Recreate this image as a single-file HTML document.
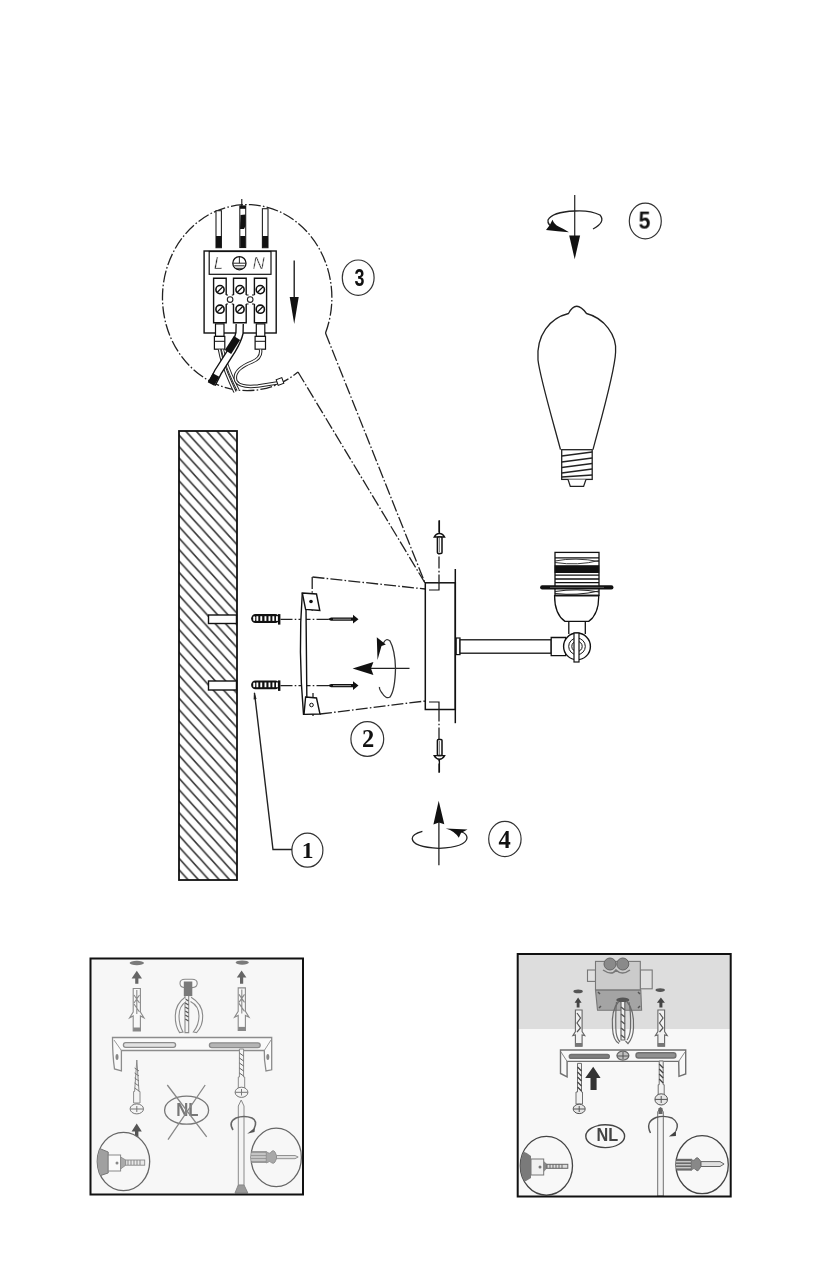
<!DOCTYPE html>
<html><head><meta charset="utf-8">
<style>
html,body{margin:0;padding:0;background:#fff;width:823px;height:1280px;overflow:hidden;}
svg{position:absolute;left:0;top:0;}
text{font-family:"Liberation Sans",sans-serif;}
svg{will-change:transform;}
.dd{fill:none;stroke:#222;stroke-width:1.3;stroke-dasharray:12 2.2 1.6 2.2;}
.ln{fill:none;stroke:#111;}
.tn{fill:none;stroke:#222;}
</style></head>
<body>
<svg width="823" height="1280" viewBox="0 0 823 1280">
<defs>
  <pattern id="hatch" patternUnits="userSpaceOnUse" width="10.4" height="11.44" patternTransform="translate(178,434)">
    <path d="M-2.08,-2.29 L12.48,13.73 M-12.48,-2.29 L2.08,13.73 M8.32,-2.29 L22.88,13.73" stroke="#3a3a3a" stroke-width="1.7"/>
  </pattern>
  <clipPath id="wallclip"><rect x="179" y="431" width="58" height="449"/></clipPath>
</defs>

<!-- WALL -->
<g id="wall">
  <rect x="179" y="431" width="58" height="449" fill="url(#hatch)"/>
  <rect x="179" y="431" width="58" height="449" fill="none" stroke="#111" stroke-width="1.8"/>
  <rect x="208.5" y="615" width="28" height="8.5" fill="#fff" stroke="#111" stroke-width="1.4"/>
  <rect x="208.5" y="681" width="28" height="9" fill="#fff" stroke="#111" stroke-width="1.4"/>
</g>


<!-- DETAIL CIRCLE 3 -->
<g id="detail3">
  <path class="dd" d="M325.5,333 A84.7,93 0 1 0 298,372"/>
  <path class="dd" d="M325.5,333 L425,583"/>
  <path class="dd" d="M298,372 L425,583"/>
  <!-- wires top -->
  <g stroke="#222" stroke-width="1.1" fill="#fff">
    <rect x="216" y="210.7" width="5.4" height="37"/>
    <rect x="239.8" y="206" width="5.9" height="41.5"/>
    <rect x="262.4" y="208.7" width="5.6" height="39"/>
  </g>
  <g fill="#111">
    <rect x="216" y="236" width="5.4" height="11.6"/>
    <rect x="262.4" y="236" width="5.6" height="11.6"/>
    <rect x="240.2" y="236" width="5.2" height="11.6"/>
    <path d="M240.5,215 L245.5,214.5 L245.5,226 L244,229 L240,229Z"/>
    <rect x="240" y="205.8" width="5.8" height="3"/>
  </g>
  <line x1="241.8" y1="199" x2="241.8" y2="206" stroke="#111" stroke-width="1.1"/>
  <!-- block -->
  <rect x="204.1" y="251" width="72.1" height="82" fill="#fff" stroke="#111" stroke-width="1.4"/>
  <rect x="209.2" y="251.5" width="61.8" height="22.8" fill="#fff" stroke="#111" stroke-width="1.2"/>
  <text id="tL" x="218.5" y="269.2" font-size="17" font-style="italic" text-anchor="middle" fill="#222" stroke="#fff" stroke-width="0.5">L</text>
  <text id="tN" x="258.6" y="269.2" font-size="17" font-style="italic" text-anchor="middle" fill="#222" stroke="#fff" stroke-width="0.5">N</text>
  <circle cx="239.4" cy="263.2" r="6.6" fill="none" stroke="#111" stroke-width="1.3"/>
  <path d="M233.2,263.2 H245.6 M234.2,265.8 H244.6 M236,268.3 H242.8 M239.4,257 V263.2" stroke="#111" stroke-width="0.9"/>
  <g stroke="#111" stroke-width="1.4" fill="none">
    <path d="M226.2,295 V278.3 H213.6 V322.7 H226.2 V304"/>
    <path d="M233.5,295 V278.3 H246.2 V295 M246.2,304 V322.7 H233.5 V304"/>
    <path d="M254.4,295 V278.3 H266.6 V322.7 H254.4 V304"/>
    <path d="M226.2,295 H228 M226.2,304 H228 M231.8,295 H233.5 M231.8,304 H233.5 M246.2,295 H248.5 M246.2,304 H248.5 M252,295 H254.4 M252,304 H254.4" stroke-width="1.1"/>
  </g>
  <g stroke="#111" stroke-width="1.6" fill="#fff">
    <circle cx="220" cy="289.6" r="4.1"/><circle cx="240" cy="289.6" r="4.1"/><circle cx="260.3" cy="289.6" r="4.1"/>
    <circle cx="220" cy="309.2" r="4.1"/><circle cx="240" cy="309.2" r="4.1"/><circle cx="260.3" cy="309.2" r="4.1"/>
  </g>
  <g stroke="#222" stroke-width="1.1" fill="#fff">
    <circle cx="230.1" cy="299.6" r="2.8"/><circle cx="250.2" cy="299.6" r="2.8"/>
  </g>
  <path d="M217.3,292.3 L222.7,286.9 M237.3,292.3 L242.7,286.9 M257.6,292.3 L263,286.9 M217.3,311.9 L222.7,306.5 M237.3,311.9 L242.7,306.5 M257.6,311.9 L263,306.5" stroke="#111" stroke-width="1.3"/>
  <!-- necks / ferrules -->
  <g stroke="#111" stroke-width="1.2" fill="#fff">
    <rect x="215.5" y="323.9" width="8.5" height="12.5"/>
    <rect x="256.3" y="323.9" width="8.5" height="12.5"/>
    <rect x="214.4" y="336.4" width="10.4" height="12.8"/>
    <rect x="255.1" y="336.4" width="10.4" height="12.8"/>
  </g>
  <path d="M214.4,341.3 H224.8 M255.1,341.3 H265.5" stroke="#111" stroke-width="1"/>
  <!-- wires bottom -->
  <path d="M219.5,349.5 Q222,365 235,392" class="tn" stroke-width="3.4"/>
  <path d="M219.5,349.5 Q222,365 235,392" fill="none" stroke="#fff" stroke-width="1.4"/>
  <path d="M222.5,349.5 Q226,366 238,390" fill="none" stroke="#222" stroke-width="3.2"/>
  <path d="M222.5,349.5 Q226,366 238,390" fill="none" stroke="#fff" stroke-width="1.3"/>
  <path d="M260.5,349.5 Q262,358 252,362 Q232,370 236,381 Q240,388 258,386 L277,383" class="tn" stroke-width="3.4"/>
  <path d="M260.5,349.5 Q262,358 252,362 Q232,370 236,381 Q240,388 258,386 L277,383" fill="none" stroke="#fff" stroke-width="1.4"/>
  <path d="M239.7,324 L239.5,333 Q238,340 232,350 L218,372 L212,384" fill="none" stroke="#111" stroke-width="8.5" stroke-linecap="butt"/>
  <path d="M239.7,324 L239.5,333 Q238,340 232,350 L218,372 L212,384" fill="none" stroke="#fff" stroke-width="5.8"/>
  <path d="M237,338 L228,352" stroke="#111" stroke-width="7.5"/>
  <path d="M216,375 L211,384" stroke="#111" stroke-width="7.5"/>
  <rect x="277" y="378.5" width="6" height="6" fill="#fff" stroke="#111" stroke-width="1" transform="rotate(-20 280 381.5)"/>
  <!-- down arrow -->
  <line x1="294.2" y1="260.4" x2="294.2" y2="300" stroke="#111" stroke-width="1.3"/>
  <path d="M289.7,297 L298.7,297 L294.2,324Z" fill="#111"/>
</g>


<!-- DIGITS -->
<g fill="#111">
  <text id="d3" x="0" y="0" font-size="23" font-weight="bold" transform="translate(354.6,285.6) scale(0.78,1)">3</text>
  <text id="d5" x="0" y="0" font-size="23" font-weight="bold" transform="translate(638.6,228.6) scale(0.92,1)">5</text>
  <text id="d1" x="0" y="0" font-size="23.5" font-weight="bold" style="font-family:'Liberation Serif',serif" transform="translate(301.8,858)">1</text>
  <text id="d2" x="0" y="0" font-size="24.5" font-weight="bold" style="font-family:'Liberation Serif',serif" transform="translate(362,746.7)">2</text>
  <text id="d4" x="0" y="0" font-size="24.5" font-weight="bold" style="font-family:'Liberation Serif',serif" transform="translate(498.5,847.5)">4</text>
</g>

<!-- ROTATE ARROW 5 -->
<g id="rot5">
  <line x1="574.7" y1="195" x2="574.7" y2="240" stroke="#333" stroke-width="1.3"/>
  <path d="M569.2,235.6 L580.1,235.6 L574.7,259.3Z" fill="#111"/>
  <path d="M593,229 Q606,222 600,215 Q590,210 574.7,211 Q552,212 548,220 Q547,226 556,228" fill="none" stroke="#222" stroke-width="1.3"/>
  <path d="M552.5,219.8 Q554,224.5 559,226.8 Q564,229 569,232.3 Q558,231.5 546,230 Q550,226 552.5,219.8Z" fill="#111"/>
</g>

<!-- BULB -->
<g id="bulb" fill="none" stroke="#222" stroke-width="1.3">
  <path d="M560.5,449.7 C556,432 540,378 538,360 C536,335 550,318 568.5,313.5 Q576,299 586.5,313.5 C604,318 617,335 615.6,352 C615,372 598,430 593,449.7"/>
  <rect x="561.7" y="449.7" width="30.5" height="29.7" fill="#fff"/>
  <path d="M561.7,456 L592.2,452 M561.7,462 L592.2,458 M561.7,467.5 L592.2,463.5 M561.7,473 L592.2,469 M561.7,477 L592.2,475" stroke-width="1.5"/>
  <path d="M568,479.4 L570.3,486.4 L583.6,486.4 L586,479.4" fill="#fff"/>
</g>


<!-- MOUNT ASSEMBLY -->
<g id="mount">
  <!-- dash-dot projection lines -->
  <path class="dd" d="M312.5,577 L425.3,589"/>
  <path class="dd" d="M320,714 L425.3,701"/>
  <path class="dd" d="M280.5,619.3 L330,619.3"/>
  <path class="dd" d="M280.5,685.6 L330,685.6"/>
  <path class="dd" d="M312.2,577 L312.2,613"/>
  <path class="dd" d="M313,693 L313,716"/>
  <!-- dowels -->
  <g id="dowel1">
    <rect x="251.1" y="614.1" width="28.5" height="8.9" rx="4.4" fill="#111"/>
    <rect x="278" y="614.1" width="2.4" height="10.5" fill="#111"/>
    <g fill="#fff"><rect x="253.2" y="616.2" width="2" height="4.7" rx="1"/><rect x="256.4" y="616.2" width="1.9" height="4.7"/><rect x="260.3" y="616.2" width="1.9" height="4.7"/><rect x="264.5" y="616.2" width="1.9" height="4.7"/><rect x="268.5" y="616.2" width="1.9" height="4.7"/><rect x="272.4" y="616.2" width="1.9" height="4.7"/><rect x="276" y="616.2" width="1.9" height="4.7"/></g>
  </g>
  <g transform="translate(0,66.3)">
    <rect x="251.1" y="614.1" width="28.5" height="8.9" rx="4.4" fill="#111"/>
    <rect x="278" y="614.1" width="2.4" height="10.5" fill="#111"/>
    <g fill="#fff"><rect x="253.2" y="616.2" width="2" height="4.7" rx="1"/><rect x="256.4" y="616.2" width="1.9" height="4.7"/><rect x="260.3" y="616.2" width="1.9" height="4.7"/><rect x="264.5" y="616.2" width="1.9" height="4.7"/><rect x="268.5" y="616.2" width="1.9" height="4.7"/><rect x="272.4" y="616.2" width="1.9" height="4.7"/><rect x="276" y="616.2" width="1.9" height="4.7"/></g>
  </g>
  <!-- bracket -->
  <path d="M302.3,593 Q298,650 303.5,714.4 L307,714.4 L306,609" fill="#fff" stroke="#111" stroke-width="1.4"/>
  <path d="M302.3,593 L316.5,594 L319.8,610.5 L305.6,609.4Z" fill="#fff" stroke="#111" stroke-width="1.4"/>
  <path d="M305.6,697 L316.5,698 L320,714 L304,714.4Z" fill="#fff" stroke="#111" stroke-width="1.4"/>
  <circle cx="311" cy="601.5" r="1.8" fill="#111"/>
  <circle cx="311.5" cy="705" r="1.8" fill="none" stroke="#111" stroke-width="1"/>
  <!-- screws -->
  <g id="screw1">
    <path d="M327.5,619.2 L331,617.6 L353,617.6 L353,614.8 L358.5,619.2 L353,623.6 L353,620.8 L331,620.8Z" fill="#111"/>
    <path d="M333,619.2 H351" stroke="#bbb" stroke-width="0.8"/>
  </g>
  <g transform="translate(0,66.4)">
    <path d="M327.5,619.2 L331,617.6 L353,617.6 L353,614.8 L358.5,619.2 L353,623.6 L353,620.8 L331,620.8Z" fill="#111"/>
    <path d="M333,619.2 H351" stroke="#bbb" stroke-width="0.8"/>
  </g>
  <!-- rotate arrow 2 -->
  <line x1="366" y1="668.4" x2="409.5" y2="668.4" stroke="#222" stroke-width="1.2"/>
  <path d="M352.6,668.4 L373.4,662 L371,668.4 L373.4,675Z" fill="#111"/>
  <path d="M383.5,643 Q386,637.5 390,641 Q395,650 395.5,668.4 Q395,690 390,697 Q386,699.5 382,693 Q379,689 379.5,687" fill="none" stroke="#333" stroke-width="1.3"/>
  <path d="M376.8,637.3 L385.8,644.5 L381.5,646 L377.5,660Z" fill="#111"/>
  <!-- mount box -->
  <rect x="425.3" y="582.8" width="30" height="126.7" fill="#fff" stroke="#111" stroke-width="1.5"/>
  <line x1="455.3" y1="569" x2="455.3" y2="723.2" stroke="#111" stroke-width="1.5"/>
  <path d="M439,583 V590 H429" fill="none" stroke="#111" stroke-width="1.2"/>
  <path d="M439,709.5 V702 H429" fill="none" stroke="#111" stroke-width="1.2"/>
  <path class="dd" d="M439,520.6 L439,583"/>
  <path class="dd" d="M439,709.5 L439,772.8"/>
  <!-- screw up -->
  <path d="M434.2,537 Q436,533.6 439.4,533.4 Q442.8,533.6 444.6,537Z" fill="#fff" stroke="#111" stroke-width="1.4"/>
  <line x1="439.4" y1="520.3" x2="439.4" y2="534" stroke="#111" stroke-width="1.3"/>
  <rect x="437.4" y="537" width="4.6" height="16.4" rx="1" fill="#fff" stroke="#111" stroke-width="1.5"/>
  <line x1="439.4" y1="538" x2="439.4" y2="552" stroke="#555" stroke-width="0.8"/>
  <!-- screw down -->
  <path d="M434.2,755.6 Q436,759 439.4,759.2 Q442.8,759 444.6,755.6Z" fill="#fff" stroke="#111" stroke-width="1.4"/>
  <line x1="439.4" y1="759" x2="439.4" y2="772.5" stroke="#111" stroke-width="1.3"/>
  <rect x="437.4" y="739.6" width="4.6" height="16" rx="1" fill="#fff" stroke="#111" stroke-width="1.5"/>
  <line x1="439.4" y1="741" x2="439.4" y2="755" stroke="#555" stroke-width="0.8"/>
  <!-- arm -->
  <rect x="456.2" y="638" width="3.8" height="16.6" fill="#fff" stroke="#111" stroke-width="1.2"/>
  <rect x="460" y="639.8" width="91.2" height="13.4" fill="#fff" stroke="#111" stroke-width="1.3"/>
  <path d="M551.2,637.5 L565.7,637.5 L565.7,655.7 L551.2,655.7 Z" fill="#fff" stroke="#111" stroke-width="1.3"/>
  <!-- knob -->
  <circle cx="577" cy="646.4" r="13.4" fill="#fff" stroke="#111" stroke-width="1.4"/>
  <circle cx="577" cy="646.4" r="8.3" fill="none" stroke="#111" stroke-width="1"/>
  <circle cx="577" cy="646.4" r="5.2" fill="none" stroke="#111" stroke-width="1"/>
  <rect x="574" y="633" width="5" height="29" fill="#fff" stroke="#111" stroke-width="1.2"/>
  <!-- neck -->
  <path d="M568.8,621.6 L568.8,634 M585.3,621.6 L585.3,634" stroke="#111" stroke-width="1.3"/>
  <!-- socket -->
  <path d="M554.6,595.6 L598.7,595.6 Q599,614 588.7,621.4 L565,621.4 Q554.5,614 554.6,595.6Z" fill="#fff" stroke="#111" stroke-width="1.3"/>
  <rect x="555" y="552.4" width="44" height="43" fill="#fff" stroke="#111" stroke-width="1.3"/>
  <rect x="554.6" y="565.2" width="44.6" height="7.8" fill="#111"/>
  <path d="M555,557.8 H599 M555,575.2 H599 M555,579 H599 M555,582.6 H599" stroke="#111" stroke-width="1.3"/>
  <path d="M555,561 Q575,557 599,561.5 M555,562.5 Q578,566 599,560.5" stroke="#222" stroke-width="0.9" fill="none"/>
  <path d="M542.2,587.4 L611.4,587.4" stroke="#111" stroke-width="4.2" stroke-linecap="round"/>
  <path d="M550,587.4 L604,587.4" stroke="#777" stroke-width="0.7"/>
  <path d="M555,591.5 Q577,588 599,592 M555,593.5 Q577,596 599,591" stroke="#222" stroke-width="1" fill="none"/>
  <path d="M555,595.6 H599" stroke="#111" stroke-width="1.5"/>
</g>


<!-- ROTATE ARROW 4 -->
<g id="rot4">
  <line x1="438.9" y1="815" x2="438.9" y2="865.3" stroke="#222" stroke-width="1.3"/>
  <path d="M438.7,800.7 L444.3,824.3 L438.9,822.6 L433.4,824.5Z" fill="#111"/>
  <path d="M422.4,831.3 Q412,834 412.2,838.6 Q413,847 438.9,848.3 Q466,847 467,838 Q467,834 462,832" fill="none" stroke="#222" stroke-width="1.3"/>
  <path d="M445.7,828.4 L467.5,829.4 L461,833 L458.8,837.8 Q455,831 445.7,828.4Z" fill="#111"/>
</g>

<!-- CALLOUT CIRCLES -->
<g fill="none" stroke="#333" stroke-width="1.2">
  <ellipse cx="358.2" cy="277.7" rx="15.9" ry="17.7"/>
  <ellipse cx="645.3" cy="221" rx="16" ry="17.8"/>
  <ellipse cx="367.3" cy="739" rx="16.4" ry="17.3"/>
  <ellipse cx="504.9" cy="839" rx="16.2" ry="17.6"/>
  <ellipse cx="307.4" cy="850.2" rx="15.5" ry="17"/>
</g>
<path d="M292,849.5 H273 L254.5,693" fill="none" stroke="#222" stroke-width="1.4"/>
<path d="M254,691.5 L256.6,699 L253.6,699.5Z" fill="#222"/>

<!-- BOTTOM LEFT BOX -->
<g id="box1">
  <rect x="90.5" y="958.5" width="212.5" height="236" fill="#f7f7f7"/>
  <!-- washers -->
  <ellipse cx="136.8" cy="963" rx="7.2" ry="2.2" fill="#7a7a7a"/>
  <ellipse cx="242.2" cy="962.6" rx="6.6" ry="2.1" fill="#7a7a7a"/>
  <!-- small up arrows -->
  <path d="M136.8,970.8 L142,978.5 L138.4,978.5 L138.4,983.7 L135.2,983.7 L135.2,978.5 L131.6,978.5Z" fill="#666"/>
  <path d="M241.6,970.6 L246.4,977.5 L243.2,977.5 L243.2,983.7 L240,983.7 L240,977.5 L236.8,977.5Z" fill="#666"/>
  <!-- dowels -->
  <g id="bdowel" fill="none" stroke="#8a8a8a" stroke-width="1.1">
    <path d="M133.2,988.5 L140.4,988.5 L140.4,1012 L144,1017.8 L140.4,1016 L140.4,1031 L133.2,1031 L133.2,1016 L129.6,1017.8 L133.2,1012Z" fill="#f8f8f8"/>
    <path d="M136.8,990 L136.8,1014 M134,995 L139.5,1003 M139.5,995 L134,1003 M134,1004 L139.5,1012"/>
    <rect x="133.2" y="1027.5" width="7.2" height="3.5" fill="#888" stroke="none"/>
  </g>
  <g transform="translate(105,-0.6)" fill="none" stroke="#8a8a8a" stroke-width="1.1">
    <path d="M133.2,988.5 L140.4,988.5 L140.4,1012 L144,1017.8 L140.4,1016 L140.4,1031 L133.2,1031 L133.2,1016 L129.6,1017.8 L133.2,1012Z" fill="#f8f8f8"/>
    <path d="M136.8,990 L136.8,1014 M134,995 L139.5,1003 M139.5,995 L134,1003 M134,1004 L139.5,1012"/>
    <rect x="133.2" y="1027.5" width="7.2" height="3.5" fill="#888" stroke="none"/>
  </g>
  <!-- clamp -->
  <g id="clamp1" stroke="#8a8a8a" stroke-width="1.1" fill="none">
    <path d="M180,983.3 Q180,979.3 185,979.3 L192,979.3 Q197.2,979.3 197.2,983.3 Q197.2,987.6 192,987.6 L185,987.6 Q180,987.6 180,983.3Z" fill="#fafafa"/>
    <rect x="183.8" y="981.5" width="8.5" height="14.6" fill="#7a7a7a" stroke="none"/>
    <path d="M185,996 L185,1032.6 L188.7,1032.6 L188.7,996" fill="#f4f4f4"/>
    <path d="M185.3,999 L188.5,1001 M185.3,1003 L188.5,1005 M185.3,1007 L188.5,1009 M185.3,1011 L188.5,1013 M185.3,1015 L188.5,1017 M185.3,1019 L188.5,1021" stroke="#555" stroke-width="1.3"/>
    <path d="M185,997.3 Q175.5,1004 175.3,1015.6 Q175,1026 179.6,1032.6 L183,1032 Q179,1025 179,1016 Q179,1006 186,1001.6" fill="#f8f8f8"/>
    <path d="M191.1,997.3 Q202.5,1004 202.7,1015.6 Q203,1026 196.6,1032.6 L193.3,1032 Q199,1025 199,1016 Q199,1006 190.5,1001.6" fill="#f8f8f8"/>
  </g>
  <!-- bracket -->
  <g stroke="#8c8c8c" stroke-width="1.3" fill="#fafafa">
    <path d="M112.5,1037.5 L271.7,1037.5 L271.7,1069.8 L266,1071 Q264,1060 264.3,1050.5 L121.4,1050.5 L121.4,1070.8 L114.5,1069 Q112.5,1055 112.5,1037.5Z"/>
    <rect x="123.4" y="1042.7" width="52.2" height="4.7" rx="2.3" fill="#e2e2e2"/>
    <rect x="209.4" y="1042.8" width="50.8" height="4.9" rx="2.4" fill="#b4b4b4"/>
  </g>
  <path d="M114,1040 L121.4,1050.5 M271,1040 L264.3,1050.5" stroke="#999" stroke-width="1"/>
  <ellipse cx="117" cy="1057" rx="1.5" ry="3" fill="#888"/>
  <ellipse cx="267.8" cy="1057" rx="1.5" ry="3" fill="#888"/>
  <!-- left screw -->
  <g stroke="#8a8a8a" stroke-width="1" fill="#f4f4f4">
    <path d="M136.8,1060 L139,1091.5 L140,1091.5 L140,1103 L133.6,1103 L133.6,1091.5 L134.6,1091.5Z"/>
    <path d="M134.6,1068 L139,1071 M134.6,1073 L139,1076 M134.6,1078 L139,1081 M134.6,1083 L139,1086 M134.6,1088 L139,1091" stroke="#777"/>
    <ellipse cx="136.8" cy="1108.9" rx="6.7" ry="5" stroke="#777"/>
    <path d="M130.5,1109 H143 M136.8,1106 V1112" stroke="#777"/>
  </g>
  <path d="M136.7,1123.5 L141.8,1131.5 L138.4,1131.5 L138.4,1137 L135,1137 L135,1131.5 L131.6,1131.5Z" fill="#555"/>
  <!-- NL crossed -->
  <ellipse cx="186.6" cy="1110.2" rx="22" ry="14" fill="none" stroke="#777" stroke-width="1.3"/>
  <text id="nl1" x="0" y="0" font-size="18" font-weight="bold" text-anchor="middle" fill="#777" transform="translate(187.3,1116) scale(0.93,1)">NL</text>
  <path d="M167.3,1085 L206.7,1136.8 M205.2,1085 L168,1139.7" stroke="#888" stroke-width="1.3"/>
  <!-- right screw + screwdriver -->
  <g stroke="#8a8a8a" stroke-width="1" fill="#f4f4f4">
    <path d="M239.4,1049 L243.6,1049 L243.6,1077 L244.7,1077 L244.7,1088 L238.3,1088 L238.3,1077 L239.4,1077Z"/>
    <path d="M239.4,1053 L243.6,1056 M239.4,1058 L243.6,1061 M239.4,1063 L243.6,1066 M239.4,1068 L243.6,1071 M239.4,1073 L243.6,1076" stroke="#666"/>
    <ellipse cx="241.5" cy="1092.3" rx="6.4" ry="5.1" stroke="#777"/>
    <path d="M235.2,1092.3 H247.8 M241.5,1089 V1095.5" stroke="#777"/>
    <path d="M241.2,1100 L244,1106 L244,1185.4 L238.3,1185.4 L238.3,1106Z"/>
    <path d="M238.3,1185 L244,1185 L247.8,1193 L235,1193Z" fill="#9a9a9a" stroke="#888"/>
  </g>
  <path d="M233,1130 Q228,1122 236,1118 Q244,1115 252,1118 Q258,1121 254,1129" fill="none" stroke="#666" stroke-width="1.6"/>
  <path d="M247.2,1133.8 L255,1127.5 L254.5,1132Z" fill="#555"/>
  <!-- inset circles -->
  <g>
    <clipPath id="c1l"><ellipse cx="123.5" cy="1161.5" rx="26.2" ry="29.2"/></clipPath>
    <ellipse cx="123.5" cy="1161.5" rx="26.2" ry="29.2" fill="#f7f7f7" stroke="#666" stroke-width="1.3"/>
    <g clip-path="url(#c1l)">
      <path d="M96,1147 L108.2,1152 L108.2,1173 L96,1177Z" fill="#a0a0a0" stroke="#777" stroke-width="1"/>
      <rect x="108.2" y="1155" width="12.4" height="16" fill="#fafafa" stroke="#888" stroke-width="1"/>
      <path d="M120.6,1157 L125.7,1160 L125.7,1165.2 L120.6,1169Z" fill="#aaa" stroke="#888" stroke-width="0.8"/>
      <rect x="125.7" y="1160" width="19" height="5.2" fill="#e8e8e8" stroke="#888" stroke-width="0.9"/>
      <path d="M128,1160 V1165 M131,1160 V1165 M134,1160 V1165 M137,1160 V1165 M140,1160 V1165" stroke="#888" stroke-width="1"/>
      <circle cx="117" cy="1163" r="1.5" fill="#888"/>
    </g>
    <clipPath id="c1r"><ellipse cx="276.2" cy="1157.4" rx="25.2" ry="29.3"/></clipPath>
    <ellipse cx="276.2" cy="1157.4" rx="25.2" ry="29.3" fill="#f7f7f7" stroke="#666" stroke-width="1.3"/>
    <g clip-path="url(#c1r)">
      <rect x="250" y="1151" width="16.3" height="12" fill="#9a9a9a"/>
      <path d="M250,1154 H266 M250,1157 H266 M250,1160 H266" stroke="#eee" stroke-width="1"/>
      <path d="M266.3,1151.5 Q270,1155 272,1151 Q274,1150 275,1152 L276.5,1155.5 L276.5,1158.7 L275,1162 Q274,1164 272,1163 Q270,1160 266.3,1163Z" fill="#a8a8a8" stroke="#888" stroke-width="0.8"/>
      <path d="M276.5,1155.5 L295,1155.5 L298.2,1157 L295,1158.7 L276.5,1158.7Z" fill="#e0e0e0" stroke="#888" stroke-width="0.9"/>
    </g>
  </g>
  <rect x="90.5" y="958.5" width="212.5" height="236" fill="none" stroke="#111" stroke-width="2"/>
</g>

<!-- BOTTOM RIGHT BOX -->
<g id="box2">
  <rect x="517.7" y="954" width="213" height="242.5" fill="#f8f8f8"/>
  <rect x="518" y="954" width="212" height="75" fill="#dddddd"/>
  <!-- junction box -->
  <g stroke="#777" stroke-width="1.1">
    <rect x="587.5" y="970" width="8" height="11.4" fill="#e0e0e0"/>
    <rect x="640.3" y="970" width="11.9" height="18.8" fill="#e0e0e0"/>
    <rect x="595.5" y="961.4" width="44.8" height="28.7" fill="#cbcbcb"/>
    <path d="M595.5,990.1 L640.8,990.1 L641.6,1010.2 L597.5,1010.2Z" fill="#a4a4a4"/>
  </g>
  <circle cx="610" cy="964" r="6" fill="#8a8a8a" stroke="#666" stroke-width="1"/>
  <circle cx="622.8" cy="964" r="6" fill="#8a8a8a" stroke="#666" stroke-width="1"/>
  <path d="M603,970 Q612,976 616,970 Q622,976 630,970" fill="none" stroke="#777" stroke-width="1.5"/>
  <path d="M598,992 L600,994 M638,992 L640,994 M599,1008 L601,1006 M638,1008 L640,1006" stroke="#555" stroke-width="1.5"/>
  <ellipse cx="622.8" cy="1000" rx="6.5" ry="2.5" fill="#555"/>
  <!-- clamp 2 -->
  <g stroke="#6a6a6a" stroke-width="1.2" fill="none">
    <path d="M619,1001 Q611,1010 612.5,1028 Q613,1040 619,1043.6"/>
    <path d="M616.5,1002 Q615.5,1012 615.8,1028 Q616,1038 620,1042"/>
    <path d="M626.5,1001 Q634.5,1010 633.5,1028 Q633,1038 628,1043.6 L625.5,1041"/>
    <path d="M629,1002 Q631,1012 630.5,1028 Q630,1036 627,1040"/>
    <path d="M621,1002 L621,1040 L624.8,1040 L624.8,1002" fill="#eee"/>
    <path d="M621,1007 L624.8,1010 M621,1014 L624.8,1017 M621,1021 L624.8,1024 M621,1028 L624.8,1031 M621,1035 L624.8,1038" stroke="#555" stroke-width="1.5"/>
  </g>
  <!-- washers/arrows -->
  <ellipse cx="578.1" cy="991.4" rx="4.7" ry="1.8" fill="#555"/>
  <ellipse cx="660.2" cy="990.1" rx="4.7" ry="1.8" fill="#555"/>
  <path d="M578.1,997.5 L581.6,1002.8 L579.5,1002.8 L579.5,1007.5 L576.7,1007.5 L576.7,1002.8 L574.6,1002.8Z" fill="#444"/>
  <path d="M660.9,997.5 L664.9,1002.8 L662.4,1002.8 L662.4,1007.5 L659.4,1007.5 L659.4,1002.8 L656.9,1002.8Z" fill="#444"/>
  <!-- dowels -->
  <g id="bdowel2" stroke="#666" stroke-width="1.1" fill="#f2f2f2">
    <path d="M575.4,1010 L582.1,1010 L582.1,1031.5 L584.8,1035.6 L582.1,1035 L582.1,1046.3 L575.4,1046.3 L575.4,1035 L572.8,1035.6 L575.4,1031.5Z"/>
    <path d="M577,1013 L580.5,1018 L577,1023 L580.5,1028 L577,1032" fill="none" stroke="#555" stroke-width="1.2"/>
    <rect x="575.4" y="1043" width="6.7" height="3.3" fill="#777" stroke="none"/>
  </g>
  <g transform="translate(82.5,0)" stroke="#666" stroke-width="1.1" fill="#f2f2f2">
    <path d="M575.4,1010 L582.1,1010 L582.1,1031.5 L584.8,1035.6 L582.1,1035 L582.1,1046.3 L575.4,1046.3 L575.4,1035 L572.8,1035.6 L575.4,1031.5Z"/>
    <path d="M577,1013 L580.5,1018 L577,1023 L580.5,1028 L577,1032" fill="none" stroke="#555" stroke-width="1.2"/>
    <rect x="575.4" y="1043" width="6.7" height="3.3" fill="#777" stroke="none"/>
  </g>
  <!-- bracket -->
  <g stroke="#707070" stroke-width="1.4" fill="#f9f9f9">
    <path d="M560.5,1050 L685.7,1050 L685.7,1074 L679,1076.3 L678.7,1061.4 L567.1,1061.4 L567.1,1076.8 L560.5,1073.5Z"/>
    <rect x="569.3" y="1054.5" width="40" height="3.8" rx="1.9" fill="#808080"/>
    <rect x="636" y="1052.8" width="39.9" height="5.2" rx="2.5" fill="#909090"/>
  </g>
  <path d="M561,1052 L567.1,1061.4 M685,1052 L678.7,1061.4" stroke="#888" stroke-width="1"/>
  <ellipse cx="622.9" cy="1055.6" rx="6" ry="4.5" fill="#c0c0c0" stroke="#666" stroke-width="1.2"/>
  <path d="M617,1056 H629 M623,1052 V1059" stroke="#555" stroke-width="1"/>
  <!-- left screw -->
  <g stroke="#707070" stroke-width="1" fill="#f2f2f2">
    <path d="M577.5,1063.4 L581.5,1063.4 L581.5,1092 L582.5,1092 L582.5,1104 L576,1104 L576,1092 L577.5,1092Z"/>
    <path d="M577.5,1067 L581.5,1071 M577.5,1072 L581.5,1076 M577.5,1077 L581.5,1081 M577.5,1082 L581.5,1086 M577.5,1087 L581.5,1091" stroke="#444" stroke-width="1.3"/>
    <ellipse cx="579.2" cy="1108.9" rx="6" ry="4.7" fill="#e6e6e6" stroke="#555"/>
    <path d="M573.5,1109 H585 M579.2,1106 V1112" stroke="#555"/>
  </g>
  <!-- big up arrow -->
  <path d="M593.2,1066.7 L600.6,1078 L596.6,1078 L596.6,1090 L590.5,1090 L590.5,1078 L585.2,1078Z" fill="#333"/>
  <!-- NL -->
  <ellipse cx="605.2" cy="1136.2" rx="19.4" ry="11.4" fill="none" stroke="#444" stroke-width="1.4"/>
  <text id="nl2" x="0" y="0" font-size="17.5" font-weight="bold" text-anchor="middle" fill="#444" transform="translate(607.3,1141.3) scale(0.93,1)">NL</text>
  <!-- right screw + driver -->
  <g stroke="#707070" stroke-width="1" fill="#f2f2f2">
    <path d="M659.2,1061 L663.2,1061 L663.2,1084.7 L664.2,1084.7 L664.2,1095 L658.2,1095 L658.2,1084.7 L659.2,1084.7Z"/>
    <path d="M659.2,1064 L663.2,1068 M659.2,1069 L663.2,1073 M659.2,1074 L663.2,1078 M659.2,1079 L663.2,1083" stroke="#444" stroke-width="1.3"/>
    <ellipse cx="661.2" cy="1099.4" rx="6.3" ry="5.6" fill="#e6e6e6" stroke="#555"/>
    <path d="M655,1099.4 H667.5 M661.2,1096 V1103" stroke="#555"/>
    <path d="M660.5,1107 L663.3,1112 L663.3,1196 L657.7,1196 L657.7,1112Z"/>
  </g>
  <rect x="658.5" y="1108" width="4" height="6" fill="#666"/>
  <path d="M650.5,1133 Q645,1122 656,1117.5 Q664,1115 672,1118 Q680,1123 676,1131" fill="none" stroke="#555" stroke-width="1.4"/>
  <path d="M668.9,1136.4 L676,1130.8 L675.9,1136Z" fill="#444"/>
  <!-- inset circles -->
  <clipPath id="c2l"><ellipse cx="546.4" cy="1165.7" rx="26.1" ry="29.4"/></clipPath>
  <ellipse cx="546.4" cy="1165.7" rx="26.1" ry="29.4" fill="#f8f8f8" stroke="#444" stroke-width="1.3"/>
  <g clip-path="url(#c2l)">
    <path d="M519,1150 Q526,1152 531,1156 L531,1178 Q526,1182 519,1183Z" fill="#7a7a7a"/>
    <rect x="531" y="1159" width="12.7" height="16" fill="#f0f0f0" stroke="#777" stroke-width="1"/>
    <path d="M543.7,1161 L547,1164 L547,1168.3 L543.7,1172Z" fill="#888"/>
    <rect x="547" y="1164.3" width="20.8" height="4" fill="#ddd" stroke="#666" stroke-width="1"/>
    <path d="M550,1164.3 V1168.3 M553,1164.3 V1168.3 M556,1164.3 V1168.3 M559,1164.3 V1168.3 M562,1164.3 V1168.3" stroke="#666" stroke-width="1"/>
    <circle cx="540" cy="1167" r="1.5" fill="#777"/>
  </g>
  <clipPath id="c2r"><ellipse cx="702.1" cy="1164.7" rx="26.2" ry="29"/></clipPath>
  <ellipse cx="702.1" cy="1164.7" rx="26.2" ry="29" fill="#f8f8f8" stroke="#444" stroke-width="1.3"/>
  <g clip-path="url(#c2r)">
    <rect x="676" y="1158.8" width="15.3" height="11.8" fill="#6a6a6a"/>
    <path d="M676,1161.8 H691 M676,1164.8 H691 M676,1167.8 H691" stroke="#eee" stroke-width="1"/>
    <path d="M691.3,1159 Q694,1162 696,1158 Q698,1157 699,1159 L701,1161.6 L701,1166.5 L699,1169.5 Q698,1172 696,1170 Q694,1167 691.3,1170.5Z" fill="#888" stroke="#666" stroke-width="0.8"/>
    <path d="M701,1161.6 L720,1161.6 L724.1,1164 L720,1166.5 L701,1166.5Z" fill="#e0e0e0" stroke="#666" stroke-width="1"/>
  </g>
  <rect x="517.7" y="954" width="213" height="242.5" fill="none" stroke="#111" stroke-width="2"/>
</g>
</svg>
</body></html>
